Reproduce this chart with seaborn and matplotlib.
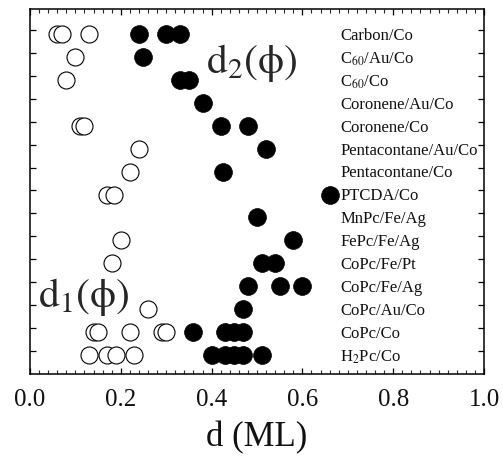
import matplotlib
matplotlib.use("Agg")
import matplotlib.pyplot as plt
import seaborn as sns
import pandas as pd
import numpy as np
from matplotlib.ticker import MultipleLocator

# Systems, top to bottom
systems = [
    r"Carbon/Co",
    r"C$_{60}$/Au/Co",
    r"C$_{60}$/Co",
    r"Coronene/Au/Co",
    r"Coronene/Co",
    r"Pentacontane/Au/Co",
    r"Pentacontane/Co",
    r"PTCDA/Co",
    r"MnPc/Fe/Ag",
    r"FePc/Fe/Ag",
    r"CoPc/Fe/Pt",
    r"CoPc/Fe/Ag",
    r"CoPc/Au/Co",
    r"CoPc/Co",
    r"H$_2$Pc/Co",
]

# d1(phi): first critical thickness (ML)
d1_values = [
    [0.06, 0.07, 0.13],
    [0.10],
    [0.08],
    [],
    [0.11, 0.12],
    [0.24],
    [0.22],
    [0.17, 0.185],
    [],
    [0.20],
    [0.18],
    [],
    [0.26],
    [0.14, 0.15, 0.22, 0.29, 0.30],
    [0.13, 0.17, 0.19, 0.23],
]

# d2(phi): second critical thickness (ML)
d2_values = [
    [0.24, 0.30, 0.33],
    [0.25],
    [0.33, 0.35],
    [0.38],
    [0.42, 0.48],
    [0.52],
    [0.425],
    [0.66],
    [0.50],
    [0.58],
    [0.51, 0.54],
    [0.48, 0.55, 0.60],
    [0.47],
    [0.36, 0.43, 0.45, 0.47],
    [0.40, 0.43, 0.45, 0.47, 0.51],
]

x_ticks = [0.0, 0.2, 0.4, 0.6, 0.8, 1.0]


def long_form(values):
    rows = []
    for i, vals in enumerate(values):
        for v in vals:
            rows.append({"row": i, "d": v})
    return pd.DataFrame(rows)


df1 = long_form(d1_values)
df2 = long_form(d2_values)

sns.set_theme(style="ticks")
plt.rcParams["font.family"] = ["Liberation Serif", "DejaVu Serif"]
plt.rcParams["mathtext.fontset"] = "stix"

fig = plt.figure(figsize=(5.03, 4.58), dpi=100)
ax = fig.add_axes([0.0596, 0.1834, 0.9026, 0.7966])

sns.scatterplot(data=df1, x="d", y="row", ax=ax, s=150, marker="o",
                color="white", edgecolor="black", linewidth=0.8, zorder=3)
sns.scatterplot(data=df2, x="d", y="row", ax=ax, s=165, marker="o",
                color="black", edgecolor="black", linewidth=0.5, zorder=3)

for i, name in enumerate(systems):
    ax.text(0.683, i + 0.08, name, fontsize=12, va="center", ha="left",
            color="#111111")

ax.text(0.387, 1.7, r"$\mathrm{d}_2(\mathrm{\phi})$", fontsize=30,
        va="baseline", ha="left")
ax.text(0.017, 11.9, r"$\mathrm{d}_1(\mathrm{\phi})$", fontsize=30,
        va="baseline", ha="left")

ax.set_xlim(0.0, 1.0)
ax.set_ylim(14.83, -1.09)
ax.set_xticks(x_ticks)
ax.set_xticklabels([f"{t:.1f}" for t in x_ticks])
ax.xaxis.set_minor_locator(MultipleLocator(0.02))
ax.set_yticks(np.arange(len(systems)) - 0.18)
ax.set_yticklabels([])
ax.tick_params(axis="both", which="major", direction="in", length=4.5,
               width=0.9, top=True, right=True, labelsize=18, pad=11,
               color="black", labelcolor="#111111")
ax.tick_params(axis="x", which="minor", direction="in", length=2.8,
               width=0.8, top=True)
ax.set_xlabel("d (ML)", fontsize=25, color="#111111", labelpad=7)
ax.set_ylabel("")
for sp in ax.spines.values():
    sp.set_linewidth(1.1)
    sp.set_color("black")

fig.savefig("out.png", dpi=100)
